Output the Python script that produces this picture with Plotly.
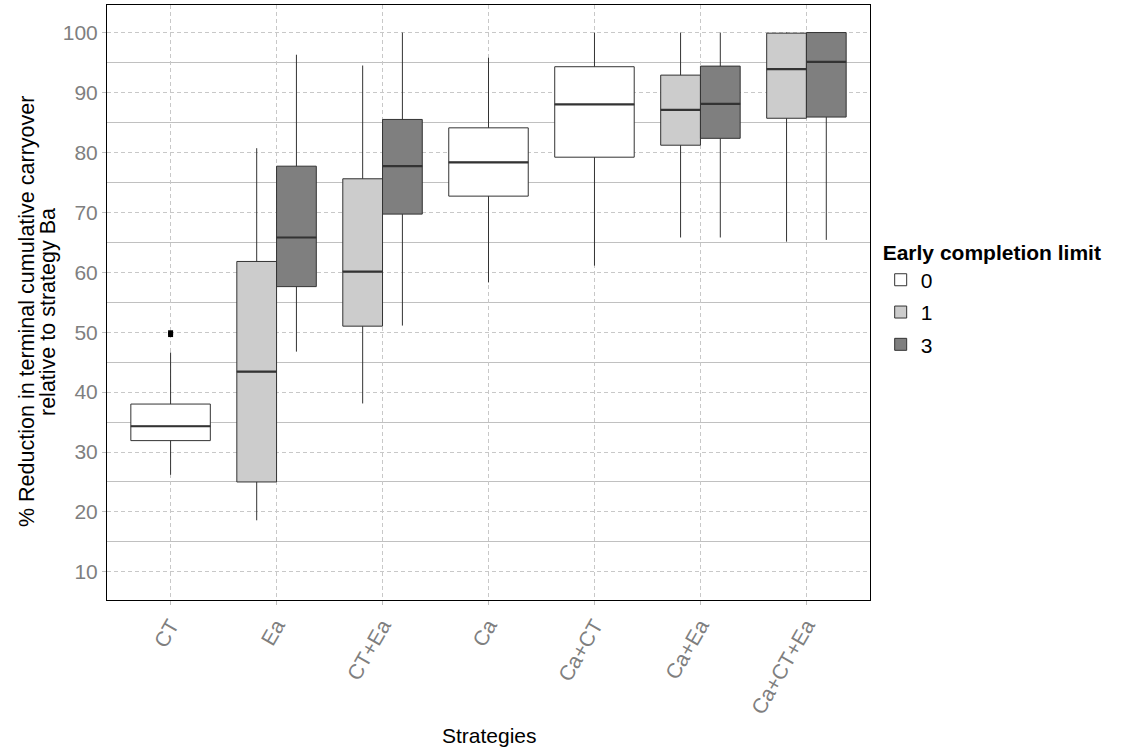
import plotly.graph_objects as go

categories = ["CT", "Ea", "CT+Ea", "Ca", "Ca+CT", "Ca+Ea", "Ca+CT+Ea"]
groups = ["0", "1", "3"]

# per group: category -> (lowerfence, q1, median, q3, upperfence)
stats_0 = {
    "CT":    (26.2, 31.9, 34.3, 38.0, 46.6),
    "Ca":    (58.3, 72.7, 78.35, 84.1, 95.8),
    "Ca+CT": (61.1, 79.2, 88.0, 94.3, 100.0),
}
stats_1 = {
    "Ea":       (18.6, 25.0, 43.4, 61.8, 80.7),
    "CT+Ea":    (38.1, 51.0, 60.1, 75.6, 94.5),
    "Ca+Ea":    (65.8, 81.2, 87.1, 92.9, 100.0),
    "Ca+CT+Ea": (65.1, 85.7, 93.9, 99.9, 100.0),
}
stats_3 = {
    "Ea":       (46.75, 57.6, 65.8, 77.7, 96.3),
    "CT+Ea":    (51.1, 69.7, 77.7, 85.5, 100.0),
    "Ca+Ea":    (65.8, 82.35, 88.1, 94.4, 100.0),
    "Ca+CT+Ea": (65.4, 85.9, 95.1, 100.0, 100.0),
}
outlier_cat = ["CT", "CT"]
outlier_val = [49.6, 49.9]

fills = {"0": "#FFFFFF", "1": "#CCCCCC", "3": "#7F7F7F"}
all_stats = {"0": stats_0, "1": stats_1, "3": stats_3}

fig = go.Figure()
FONT = "Liberation Sans, Arial, sans-serif"
OUT = "#333333"

median_x, median_y = [], []
for g in groups:
    st = all_stats[g]
    first = True
    for cat, (lo, q1, med, q3, hi) in st.items():
        ci = categories.index(cat)
        present = [gg for gg in groups if cat in all_stats[gg]]
        n = len(present)
        w = 0.75 / n
        k = present.index(g)
        pos = ci - 0.375 + w * (k + 0.5)
        fig.add_trace(go.Box(
            x=[pos], q1=[q1], median=[med], q3=[q3],
            lowerfence=[lo], upperfence=[hi],
            width=w, whiskerwidth=0,
            fillcolor=fills[g],
            line=dict(color=OUT, width=1),
            name=g, legendgroup=g, showlegend=first,
            boxpoints=False, hoverinfo="skip",
        ))
        first = False
        median_x += [pos - w / 2, pos + w / 2, None]
        median_y += [med, med, None]

# thicker median segments (as in ggplot)
fig.add_trace(go.Scatter(
    x=median_x, y=median_y, mode="lines",
    line=dict(color=OUT, width=2.2),
    showlegend=False, hoverinfo="skip",
))

fig.add_trace(go.Scatter(
    x=[categories.index(c) for c in outlier_cat], y=outlier_val,
    mode="markers", marker=dict(color="black", size=5, symbol="square"),
    showlegend=False, hoverinfo="skip",
))

fig.update_layout(
    width=1124, height=748,
    margin=dict(l=107, r=254, t=5, b=148),
    paper_bgcolor="white", plot_bgcolor="white",
    boxmode="overlay",
    font=dict(family=FONT, size=20, color="black"),
    legend=dict(
        title=dict(text="<b>Early completion limit</b>", font=dict(size=21, color="black")),
        x=1.014, xanchor="left", y=0.618, yanchor="top",
        font=dict(size=21, color="black"),
        bgcolor="rgba(0,0,0,0)",
        tracegroupgap=2,
    ),
    xaxis=dict(
        range=[-0.6, 6.6],
        tickmode="array", tickvals=list(range(len(categories))), ticktext=categories,
        tickangle=-60,
        tickfont=dict(size=21, color="#7F7F7F"),
        ticks="outside", ticklen=4, tickcolor="#BFBFBF",
        showgrid=True, gridcolor="#C8C8C8", griddash="4px,3px", gridwidth=1,
        showline=True, linecolor="#000000", linewidth=1, mirror=True,
        zeroline=False, automargin=False,
    ),
    yaxis=dict(
        range=[5.3, 104.6],
        tickmode="array", tickvals=[10, 20, 30, 40, 50, 60, 70, 80, 90, 100],
        tickfont=dict(size=21, color="#7F7F7F"),
        ticks="outside", ticklen=4, tickcolor="#BFBFBF",
        showgrid=True, gridcolor="#C8C8C8", griddash="4px,3px", gridwidth=1,
        minor=dict(tickvals=[15, 25, 35, 45, 55, 65, 75, 85, 95],
                   showgrid=True, gridcolor="#C0C0C0", griddash="solid", gridwidth=1),
        showline=True, linecolor="#000000", linewidth=1, mirror=True,
        zeroline=False, automargin=False,
    ),
    annotations=[
        dict(text="% Reduction in terminal cumulative carryover", textangle=-90,
             xref="paper", yref="paper", x=(27 - 107) / 763, y=(600 - 312) / 595,
             xanchor="center", yanchor="middle", showarrow=False,
             font=dict(size=21.5, color="black")),
        dict(text="relative to strategy Ba", textangle=-90,
             xref="paper", yref="paper", x=(48 - 107) / 763, y=(600 - 312) / 595,
             xanchor="center", yanchor="middle", showarrow=False,
             font=dict(size=21.5, color="black")),
        dict(text="Strategies",
             xref="paper", yref="paper", x=(489 - 107) / 763, y=-(735 - 600) / 595,
             xanchor="center", yanchor="middle", showarrow=False,
             font=dict(size=21, color="black")),
    ],
)

fig.write_html("out.html")
